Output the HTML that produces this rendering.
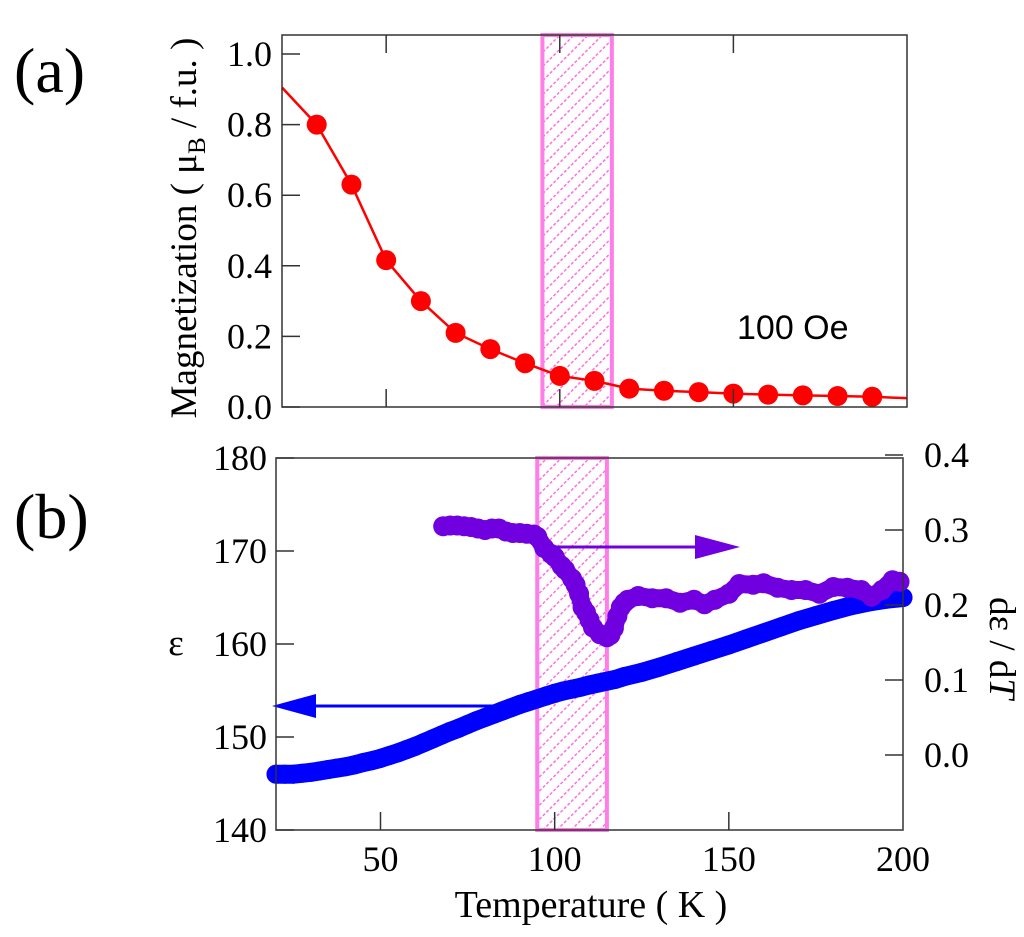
<!DOCTYPE html>
<html><head><meta charset="utf-8"><style>
html,body{margin:0;padding:0;background:#fff;}
svg{display:block;font-family:"Liberation Serif",serif;}
</style></head><body>
<svg id="chart" width="1024" height="937" viewBox="0 0 1024 937">
<defs>
<pattern id="hatch" patternUnits="userSpaceOnUse" width="10" height="10" patternTransform="rotate(45)">
<line x1="0" y1="0" x2="0" y2="10" stroke="#ff6ee0" stroke-width="3" stroke-dasharray="3 2"/>
</pattern>
</defs>
<g id="layer"></g>
</svg>
<script>
// Panel (a) data
const magTemps = [30,40,50,60,70,80,90,100,110,120,130,140,150,160,170,180,190];
const magValues = [0.80,0.63,0.416,0.30,0.21,0.164,0.124,0.088,0.074,0.052,0.046,0.042,0.038,0.035,0.033,0.031,0.029];
const magLineStart = [20,0.905];
const magLineEnd = [200,0.025];
const magTicks = [0.0,0.2,0.4,0.6,0.8,1.0];
// Panel (b) data
const epsTemps = [20,22.5,25,27.5,30,32.5,35,37.5,40,42.5,45,47.5,50,52.5,55,57.5,60,62.5,65,67.5,70,72.5,75,77.5,80,82.5,85,87.5,90,92.5,95,97.5,100,102.5,105,107.5,110,112.5,115,117.5,120,125,130,135,140,145,150,155,160,165,170,175,180,185,190,195,200];
const epsValues = [146,146,146,146.1,146.2,146.35,146.5,146.65,146.8,147.0,147.25,147.45,147.7,148.0,148.3,148.65,149,149.4,149.8,150.2,150.6,150.95,151.35,151.75,152.1,152.45,152.8,153.15,153.5,153.8,154.1,154.4,154.7,154.95,155.15,155.35,155.6,155.8,156.0,156.2,156.5,156.95,157.5,158.1,158.7,159.3,159.9,160.55,161.2,161.85,162.5,163.05,163.6,164.1,164.5,164.8,165];
const dTemps = [68,70,72,74,76,78,80,82,84,86,88,90,92,94,95,97,99,100,102,103,105,106,107,108,109,110,111,113,115,116,117,118,119,120,121,124,128,132,136,140,143,146,150,153,157,160,164,168,172,176,180,184,188,191,194,197,199];
const dValues = [0.305,0.306,0.306,0.305,0.304,0.302,0.30,0.302,0.302,0.298,0.296,0.296,0.295,0.294,0.291,0.276,0.268,0.264,0.252,0.247,0.235,0.227,0.215,0.197,0.19,0.18,0.17,0.161,0.157,0.16,0.169,0.185,0.197,0.203,0.207,0.212,0.209,0.209,0.203,0.207,0.201,0.207,0.215,0.228,0.227,0.229,0.223,0.22,0.22,0.215,0.224,0.223,0.22,0.211,0.22,0.233,0.231];
const bLeftTicks = [140,150,160,170,180];
const bRightTicks = [0.0,0.1,0.2,0.3,0.4];
const xTicks = [50,100,150,200];
const band = [95,115];

const NS = "http://www.w3.org/2000/svg";
const L = document.getElementById('layer');
function mk(tag, attrs, parent){const e=document.createElementNS(NS,tag);for(const k in attrs)e.setAttribute(k,attrs[k]);(parent||L).appendChild(e);return e;}

const xa = t => 282 + (t-20)*(907-282)/180;
const ya = v => 407 - v*(407-54);
const xb = t => 276 + (t-20)*(903-276)/180;
const ybL = v => 830 - (v-140)*(830-458)/40;
const ybR = v => 755 - v*750;
const FS = 36;

// ---- Panel (a)
let e;
e = mk('rect',{x:xa(band[0]),y:35,width:xa(band[1])-xa(band[0]),height:372,fill:'url(#hatch)',stroke:'#ff7de6','stroke-width':4});


let pts = [magLineStart].concat(magTemps.map((t,i)=>[t,magValues[i]])).concat([magLineEnd]);
e = mk('polyline',{points:pts.map(p=>xa(p[0])+','+ya(p[1])).join(' '),fill:'none',stroke:'#f00','stroke-width':2.5});


magTemps.forEach((t,i)=>{
  const c = mk('circle',{cx:xa(t),cy:ya(magValues[i]),r:10,fill:'#f00'});
  
  
});
e = mk('rect',{x:282,y:35,width:625,height:372,fill:'none',stroke:'#333','stroke-width':1.5});


magTicks.forEach(v=>{
  mk('line',{x1:282,x2:300,y1:ya(v),y2:ya(v),stroke:'#333','stroke-width':1.5});
  const tx = mk('text',{x:272,y:ya(v)+12,'font-size':FS,'text-anchor':'end'}); tx.textContent=v.toFixed(1);
  
  
});
xTicks.forEach(t=>{
  if(t>=200) return;
  mk('line',{x1:xa(t),x2:xa(t),y1:407,y2:389,stroke:'#333','stroke-width':1.5});
  mk('line',{x1:xa(t),x2:xa(t),y1:35,y2:53,stroke:'#333','stroke-width':1.5});
});

// ---- Panel (b)
e = mk('rect',{x:xb(band[0]),y:458,width:xb(band[1])-xb(band[0]),height:372,fill:'url(#hatch)',stroke:'#ff7de6','stroke-width':4});


e = mk('polyline',{points:epsTemps.map((t,i)=>xb(t)+','+ybL(epsValues[i])).join(' '),fill:'none',stroke:'#0000ff','stroke-width':19,'stroke-linecap':'round','stroke-linejoin':'round'});


epsTemps.forEach((t,i)=>{
  const c = mk('circle',{cx:xb(t),cy:ybL(epsValues[i]),r:9.5,fill:'#0000ff'});
  
  
});
e = mk('polyline',{points:dTemps.map((t,i)=>xb(t)+','+ybR(dValues[i])).join(' '),fill:'none',stroke:'#7000e0','stroke-width':18,'stroke-linecap':'round','stroke-linejoin':'round'});


dTemps.forEach((t,i)=>{
  const c = mk('circle',{cx:xb(t),cy:ybR(dValues[i]),r:10,fill:'#7000e0'});
  
  
});
e = mk('g',{});


mk('line',{x1:540,x2:700,y1:547,y2:547,stroke:'#7000e0','stroke-width':3},e);
mk('polygon',{points:'695,535 740,547 695,559',fill:'#7000e0'},e);
e = mk('g',{});


mk('line',{x1:310,x2:508,y1:706,y2:706,stroke:'#0000ff','stroke-width':3},e);
mk('polygon',{points:'316,694 272,706 316,718',fill:'#0000ff'},e);

e = mk('rect',{x:276,y:458,width:627,height:372,fill:'none',stroke:'#333','stroke-width':1.5});


bLeftTicks.forEach(v=>{
  mk('line',{x1:276,x2:294,y1:ybL(v),y2:ybL(v),stroke:'#333','stroke-width':1.5});
  const tx = mk('text',{x:267,y:ybL(v)+12,'font-size':FS,'text-anchor':'end'}); tx.textContent=v;
  
  
});
bRightTicks.forEach(v=>{
  mk('line',{x1:903,x2:885,y1:ybR(v),y2:ybR(v),stroke:'#333','stroke-width':1.5});
  const tx = mk('text',{x:924,y:ybR(v)+12,'font-size':FS}); tx.textContent=v.toFixed(1);
  
  
});
xTicks.forEach(t=>{
  if(t<200) mk('line',{x1:xb(t),x2:xb(t),y1:830,y2:812,stroke:'#333','stroke-width':1.5});
  const tx = mk('text',{x:xb(t),y:871,'font-size':FS,'text-anchor':'middle'}); tx.textContent=t;
  
  
});
</script>
<svg style="position:absolute;left:0;top:0" width="1024" height="937">
<text x="14" y="92" font-size="64" font-family="Liberation Serif,serif">(a)</text>
<text x="14" y="538" font-size="64" font-family="Liberation Serif,serif">(b)</text>
<text x="737" y="339" font-size="34" font-family="Liberation Sans,sans-serif">100 Oe</text>
<text transform="translate(196,228) rotate(-90)" text-anchor="middle" font-size="37" font-family="Liberation Serif,serif">Magnetization ( μ<tspan font-size="25" dy="9">B</tspan><tspan dy="-9"> / f.u. )</tspan></text>
<text x="176" y="655" font-size="37" text-anchor="middle" font-family="Liberation Serif,serif">ε</text>
<text transform="translate(990,648) rotate(90)" text-anchor="middle" font-size="37" font-family="Liberation Serif,serif">dε / d<tspan font-style="italic">T</tspan></text>
<text x="591" y="917" font-size="38" text-anchor="middle" font-family="Liberation Serif,serif">Temperature ( K )</text>
</svg>
</body></html>
